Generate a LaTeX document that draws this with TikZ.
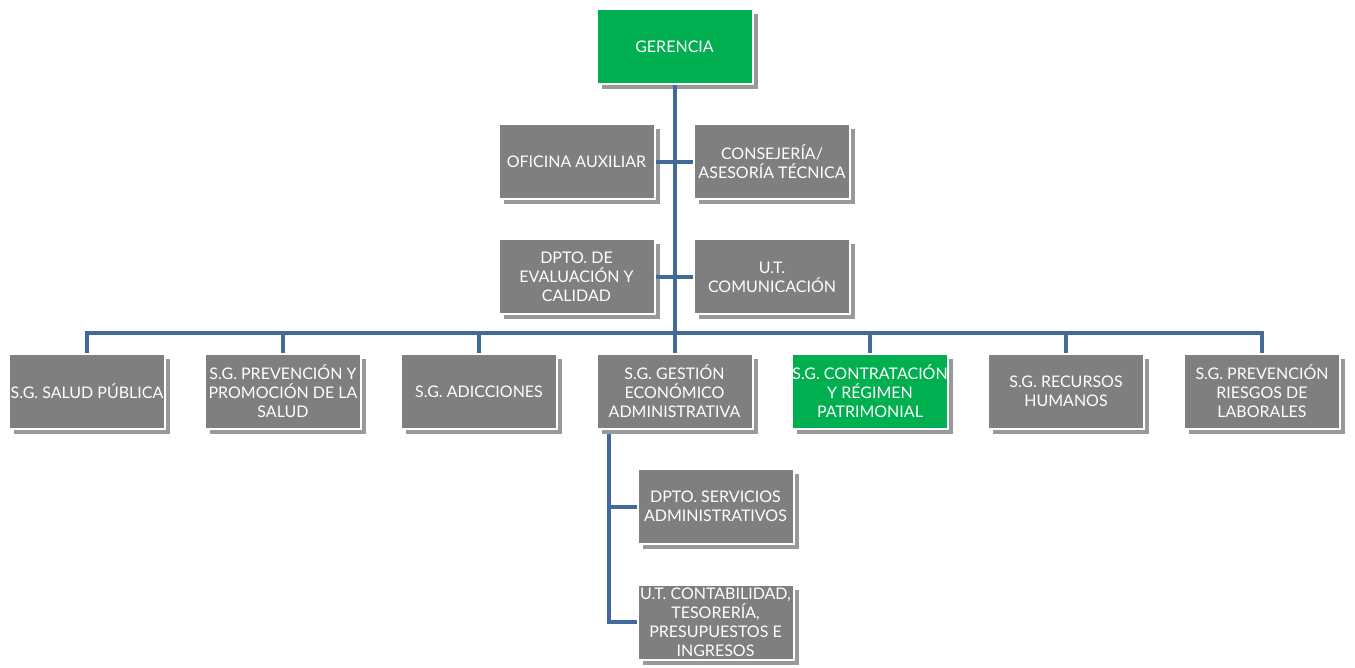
\documentclass[tikz,border=0pt]{standalone}
\usepackage{fontspec}
\setmainfont{Lato}
\usetikzlibrary{shadows}

\definecolor{grisbox}{HTML}{7F7F7F}
\definecolor{verdebox}{HTML}{00B050}
\definecolor{azullinea}{HTML}{41699A}

\tikzset{
  caja/.style={draw=white, line width=2pt, fill=grisbox, text=white,
    minimum width=156pt, minimum height=75pt, inner sep=0pt,
    align=center, font=\fontsize{16}{19}\selectfont,
    drop shadow={shadow xshift=5pt, shadow yshift=-5pt, opacity=0.4, fill=black}},
  cajaverde/.style={caja, fill=verdebox},
  linea/.style={draw=azullinea, line width=4pt}
}

\begin{document}
\begin{tikzpicture}[x=1pt,y=-1pt]
               \useasboundingbox (0,0) rectangle (1355,668);
               % cabeza y asesores
               \node[cajaverde] (ger) at (674.5,46.5) {GERENCIA};
               \node[caja] (ofi) at (576.5,162) {OFICINA AUXILIAR};
               \node[caja] (cons) at (772,162) {CONSEJERÍA/\\ASESORÍA TÉCNICA};
               \node[caja] (eval) at (576.5,277) {DPTO. DE\\EVALUACIÓN Y\\CALIDAD};
               \node[caja] (com) at (772,277) {U.T.\\COMUNICACIÓN};
               % subdirecciones
               \node[caja] (sg1) at (87,391.5) {S.G. SALUD PÚBLICA};
               \node[caja] (sg2) at (283,391.5) {S.G. PREVENCIÓN Y\\PROMOCIÓN DE LA\\SALUD};
               \node[caja] (sg3) at (479,391.5) {S.G. ADICCIONES};
               \node[caja] (sg4) at (674.5,391.5) {S.G. GESTIÓN\\ECONÓMICO\\ADMINISTRATIVA};
               \node[cajaverde] (sg5) at (870,391.5) {S.G. CONTRATACIÓN\\Y RÉGIMEN\\PATRIMONIAL};
               \node[caja] (sg6) at (1066,391.5) {S.G. RECURSOS\\HUMANOS};
               \node[caja] (sg7) at (1262,391.5) {S.G. PREVENCIÓN\\RIESGOS DE\\LABORALES};
               % dependientes de gestion economica
               \node[caja] (serv) at (715.5,506.5) {DPTO. SERVICIOS\\ADMINISTRATIVOS};
               \node[caja] (cont) at (715.5,622) {U.T. CONTABILIDAD,\\TESORERÍA,\\PRESUPUESTOS E\\INGRESOS};
               % conectores
               \coordinate (bus) at (674.5,333);
               \coordinate (sub) at (609,434);
               \draw[linea] (ger.south) -- (bus);
               \draw[linea] (ofi.east) -- (cons.west);
               \draw[linea] (eval.east) -- (com.west);
               \draw[linea] (sg1.north) |- (bus) -| (sg7.north);
               \foreach \i in {2,...,6}
                  \draw[linea] (sg\i.north) -- (sg\i.north |- bus);
               \draw[linea] (sub) |- (serv.west);
               \draw[linea] (sub) |- (cont.west);
\end{tikzpicture}
\end{document}
